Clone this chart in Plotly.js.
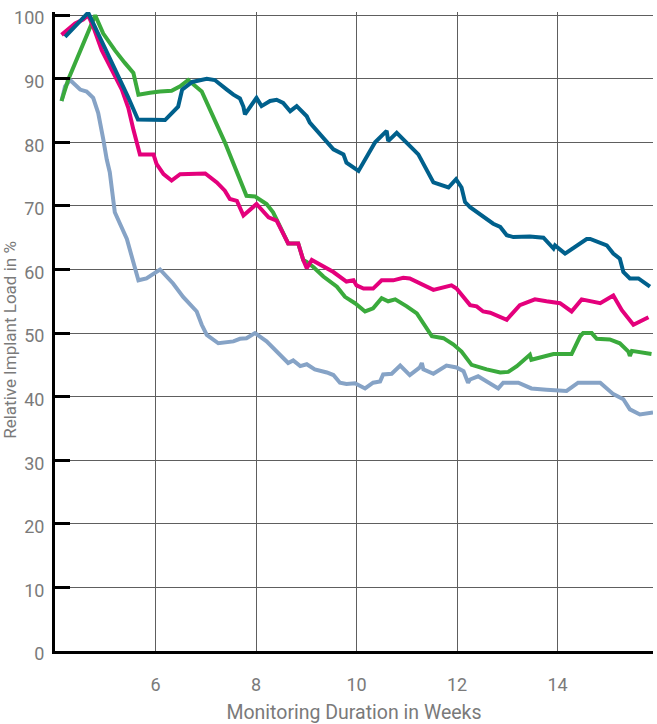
<!DOCTYPE html>
<html>
<head>
<meta charset="utf-8">
<script src="https://cdn.plot.ly/plotly-3.0.1.min.js"></script>
<style>
  html, body { margin: 0; padding: 0; background: #fff; }
  #chart { width: 657px; height: 724px; }
</style>
</head>
<body>
<div id="chart"></div>
<script>
// Relative implant load (%) over monitoring time (weeks), four patients
const blueWeeks = [4.2,4.66,5.45,5.65,6.19,6.45,6.53,6.73,7.02,7.18,7.42,7.55,7.68,7.75,7.78,8.01,8.11,8.28,8.41,8.54,8.68,8.81,9.01,9.07,9.54,9.74,9.80,10.04,10.37,10.60,10.63,10.80,11.23,11.53,11.83,11.98,12.09,12.16,12.26,12.72,12.86,12.99,13.12,13.45,13.72,13.92,13.95,14.15,14.58,14.65,14.98,15.11,15.24,15.31,15.44,15.61,15.84];
const blueLoad  = [96.6,100.4,87.2,83.6,83.5,85.6,88.3,89.5,90.0,89.8,88.3,87.5,86.9,85.6,84.4,87.0,85.7,86.5,86.7,86.2,84.9,85.7,84.1,83.1,78.9,78.1,76.8,75.5,80.0,81.8,80.2,81.5,78.1,73.7,72.9,74.2,72.9,70.6,69.8,67.2,66.7,65.4,65.1,65.2,65.0,63.3,63.8,62.5,64.8,64.8,63.8,62.5,61.7,59.6,58.6,58.6,57.3];

const pinkWeeks = [4.13,4.40,4.56,4.66,4.76,4.93,5.13,5.33,5.46,5.56,5.69,5.96,6.02,6.16,6.32,6.49,6.99,7.22,7.38,7.48,7.62,7.75,8.01,8.25,8.41,8.64,8.84,8.94,9.01,9.11,9.54,9.80,9.94,10.00,10.14,10.33,10.50,10.73,10.93,11.06,11.53,11.89,11.99,12.26,12.39,12.52,12.66,12.99,13.25,13.55,13.78,14.05,14.28,14.48,14.85,15.11,15.28,15.51,15.81];
const pinkLoad  = [96.9,98.7,99.3,100.0,98.2,94.5,91.4,88.3,85.4,82.0,78.1,78.1,76.6,75.0,74.0,75.0,75.1,73.7,72.4,71.1,70.8,68.5,70.3,68.2,67.7,64.1,64.1,61.5,60.2,61.5,59.6,58.1,58.3,57.5,57.0,57.0,58.3,58.3,58.7,58.6,56.8,57.5,57.0,54.4,54.2,53.4,53.2,52.1,54.4,55.3,55.0,54.7,53.4,55.3,54.7,55.9,53.6,51.3,52.5];

const greenWeeks = [4.13,4.26,4.80,4.96,5.19,5.39,5.56,5.66,5.89,6.09,6.32,6.49,6.65,6.92,7.38,7.81,7.98,8.21,8.34,8.45,8.64,8.84,8.94,9.01,9.14,9.34,9.61,9.77,9.97,10.17,10.33,10.50,10.63,10.77,11.00,11.20,11.50,11.73,11.93,12.09,12.29,12.59,12.86,13.02,13.19,13.45,13.48,13.92,14.28,14.45,14.51,14.68,14.78,15.04,15.24,15.41,15.44,15.48,15.87];
const greenLoad  = [86.5,89.8,100.0,97.1,94.5,92.5,90.9,87.5,87.8,88.0,88.1,88.8,89.8,88.0,80.0,71.6,71.5,70.3,69.0,67.2,64.1,64.1,61.5,61.2,60.4,58.9,57.3,55.7,54.7,53.4,53.9,55.5,55.0,55.3,54.2,53.1,49.5,49.2,48.2,47.1,45.0,44.3,43.8,43.9,44.8,46.6,45.8,46.7,46.7,49.5,50.0,50.0,49.1,49.0,48.4,47.1,46.4,47.2,46.7];

const greyWeeks = [4.13,4.2,4.30,4.50,4.63,4.76,4.86,4.96,5.03,5.09,5.19,5.43,5.66,5.82,6.09,6.35,6.55,6.82,6.92,7.02,7.25,7.55,7.68,7.81,7.98,8.21,8.64,8.74,8.88,9.01,9.17,9.41,9.54,9.67,9.80,9.97,10.17,10.33,10.47,10.53,10.70,10.87,11.06,11.26,11.30,11.33,11.53,11.79,11.99,12.13,12.22,12.26,12.42,12.82,12.92,13.22,13.48,13.78,14.18,14.41,14.85,15.11,15.31,15.44,15.64,15.9];
const greyLoad  = [86.5,88.8,89.8,88.3,88.0,87.0,84.6,80.5,77.3,75.3,69.0,64.8,58.3,58.6,60.0,57.8,55.7,53.4,51.3,49.7,48.4,48.7,49.1,49.2,50.0,48.7,45.3,45.7,44.8,45.1,44.3,43.8,43.4,42.2,42.0,42.1,41.3,42.2,42.4,43.5,43.6,44.9,43.4,44.6,45.3,44.3,43.6,44.9,44.6,44.0,42.2,42.7,43.2,41.3,42.2,42.2,41.3,41.1,40.9,42.2,42.2,40.4,39.6,38.0,37.2,37.5];

const xTicks = [6, 8, 10, 12, 14];
const yTicks = [0, 10, 20, 30, 40, 50, 60, 70, 80, 90, 100];

function series(x, y, color) {
  return {
    x: x, y: y, type: 'scatter', mode: 'lines',
    line: { color: color, width: 4, simplify: false },
    hoverinfo: 'skip', showlegend: false
  };
}

const traces = [
  series(greyWeeks, greyLoad, '#86a3c6'),
  series(greenWeeks, greenLoad, '#3aaa3c'),
  series(pinkWeeks, pinkLoad, '#e4007c'),
  series(blueWeeks, blueLoad, '#00608c')
];

const fontFamily = 'Roboto, "DejaVu Sans", sans-serif';
const labelFont = { family: fontFamily, size: 18, color: '#7a7a7a' };

const layout = {
  width: 657, height: 724,
  margin: { l: 55, r: 4, t: 12, b: 73 },
  paper_bgcolor: '#ffffff',
  plot_bgcolor: '#ffffff',
  font: labelFont,
  xaxis: {
    range: [4, 15.9],
    tickvals: xTicks,
    ticktext: xTicks.map(String),
    ticks: '',
    ticklabelstandoff: 15,
    tickfont: labelFont,
    showgrid: true, gridcolor: '#5e5e5e', gridwidth: 1,
    zeroline: false,
    showline: true, linecolor: '#000', linewidth: 3,
    title: { text: 'Monitoring Duration in Weeks', font: { family: fontFamily, size: 19.5, color: '#7a7a7a' }, standoff: 12 }
  },
  yaxis: {
    range: [0, 100.5],
    tickvals: yTicks,
    ticktext: yTicks.map(String),
    ticks: 'inside', ticklen: 15, tickwidth: 3, tickcolor: '#000',
    ticklabelstandoff: 4,
    ticklabelshift: 3,
    tickfont: labelFont,
    showgrid: true, gridcolor: '#5e5e5e', gridwidth: 1,
    zeroline: false,
    showline: true, linecolor: '#000', linewidth: 3
  },
  annotations: [{
    text: 'Relative Implant Load in %',
    textangle: -90,
    xref: 'paper', yref: 'paper',
    x: 0, y: 0.487,
    xanchor: 'center', yanchor: 'middle',
    xshift: -45,
    showarrow: false,
    font: { family: fontFamily, size: 17, color: '#7a7a7a' }
  }]
};

Plotly.newPlot('chart', traces, layout, { staticPlot: true, displayModeBar: false });
</script>
</body>
</html>
